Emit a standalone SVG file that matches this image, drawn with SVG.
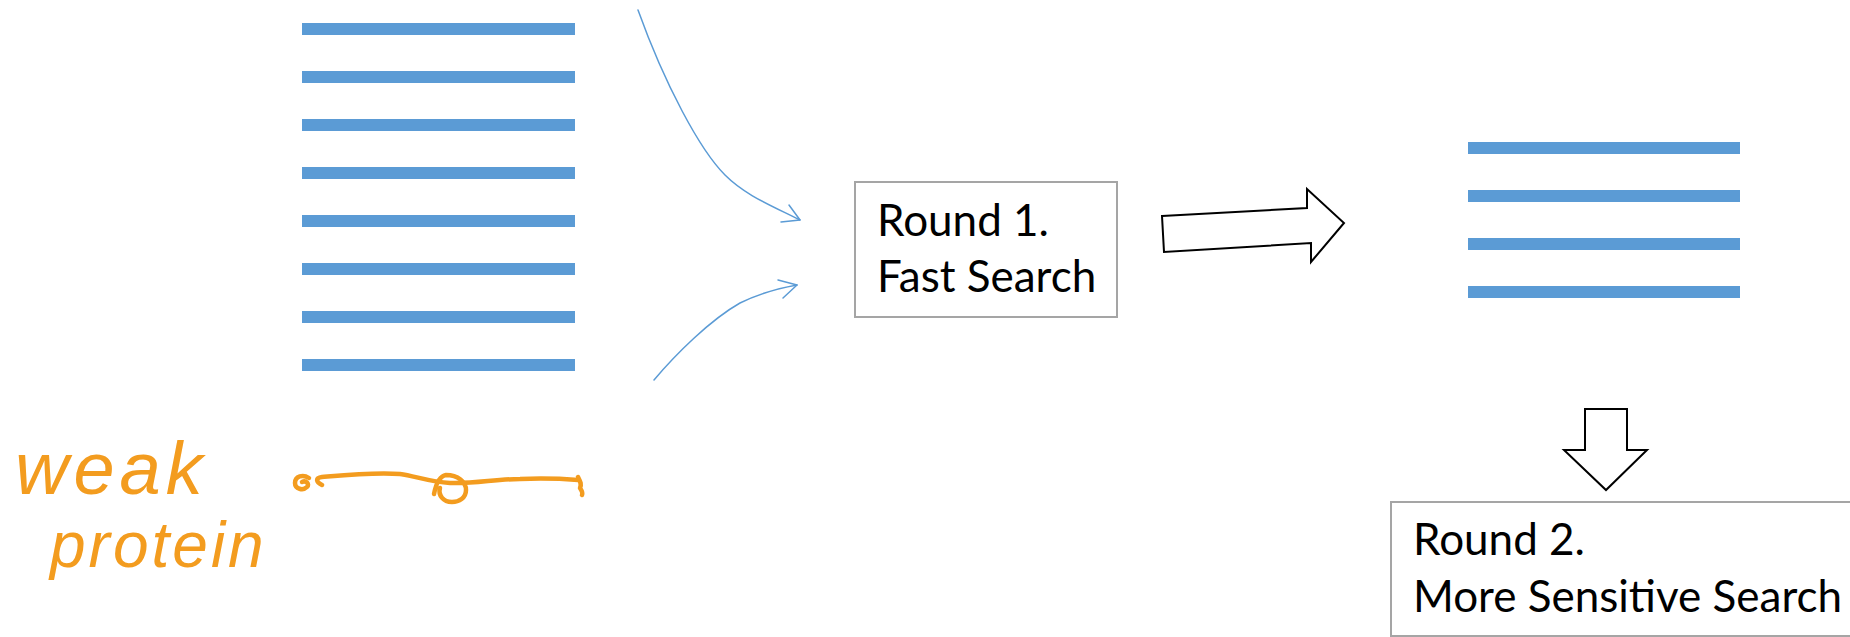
<svg xmlns="http://www.w3.org/2000/svg" width="1850" height="637" viewBox="0 0 1850 637">
  <style>
    .bar { fill: #5b9bd5; }
    .box { fill: #ffffff; stroke: #a5a5a5; stroke-width: 2; }
    .label { font-family: Lato, "Liberation Sans", sans-serif; font-size: 44px; fill: #000000; }
    .flow { fill: none; stroke: #5b9bd5; stroke-width: 1.5; stroke-linecap: round; stroke-linejoin: round; }
    .block { fill: #ffffff; stroke: #000000; stroke-width: 2; stroke-linejoin: miter; }
    .ink { fill: none; stroke: #f39c1f; stroke-width: 4.5; stroke-linecap: round; stroke-linejoin: round; }
    .inktext { font-family: "Liberation Sans", sans-serif; fill: #f39c1f; font-style: italic; }
  </style>
  <rect width="1850" height="637" fill="#ffffff"/>

  <!-- full sequence set -->
  <g id="sequences-all">
    <rect class="bar" x="302" y="23" width="273" height="12"/>
    <rect class="bar" x="302" y="71" width="273" height="12"/>
    <rect class="bar" x="302" y="119" width="273" height="12"/>
    <rect class="bar" x="302" y="167" width="273" height="12"/>
    <rect class="bar" x="302" y="215" width="273" height="12"/>
    <rect class="bar" x="302" y="263" width="273" height="12"/>
    <rect class="bar" x="302" y="311" width="273" height="12"/>
    <rect class="bar" x="302" y="359" width="273" height="12"/>
  </g>

  <!-- round 1 -->
  <g id="round1">
    <rect class="box" x="855" y="182" width="262" height="135"/>
    <text class="label" x="877" y="236">Round 1.</text>
    <text class="label" x="877" y="292">Fast Search</text>
  </g>

  <!-- filtered sequence set -->
  <g id="sequences-hits">
    <rect class="bar" x="1468" y="142" width="272" height="12"/>
    <rect class="bar" x="1468" y="190" width="272" height="12"/>
    <rect class="bar" x="1468" y="238" width="272" height="12"/>
    <rect class="bar" x="1468" y="286" width="272" height="12"/>
  </g>

  <!-- round 2 -->
  <g id="round2">
    <rect class="box" x="1391" y="502" width="470" height="134"/>
    <text class="label" x="1413" y="555">Round 2.</text>
    <text class="label" x="1413" y="612">More Sensitive Search</text>
  </g>

  <!-- hand-drawn note: a weak protein and its chain -->
  <g id="note">
    <text class="inktext"><tspan x="15" y="494" font-size="74" letter-spacing="5">weak</tspan><tspan x="50" y="567" font-size="64" letter-spacing="3">protein</tspan></text>
    <path class="ink" d="M309,478 C303,474 295,476 295,483 C295,489 303,491 307,487 C310,484 306,480 302,482"/>
    <path class="ink" d="M322,485 C316,482 315,478 322,477 C345,475 375,472 400,474 C415,476 430,482 450,483 C475,484 495,479 520,479 C545,478 565,479 578,480"/>
    <path class="ink" d="M578,477 C580,481 582,484 580,488 C582,491 583,493 582,495"/>
    <path class="ink" d="M434,494 C436,484 440,476 446,475 C458,475 466,482 466,490 C466,498 459,502 452,502 C443,502 438,495 440,488"/>
  </g>

  <g id="connectors">
    <path class="flow" d="M638,10 C665,85 700,150 725,175 C745,195 770,205 800,220"/>
    <polyline class="flow" points="789,205 800,220 781,222"/>
    <path class="flow" d="M654,380 C675,355 710,320 740,303 C760,293 780,288 797,285"/>
    <polyline class="flow" points="778,280 797,285 783,298"/>
    <polygon class="block" points="1162,216 1307,208 1307,189 1344,223 1311,262 1311,243 1164,252"/>
    <polygon class="block" points="1585,409 1627,409 1627,450 1647,450 1606,490 1564,450 1585,450"/>
  </g>
</svg>
